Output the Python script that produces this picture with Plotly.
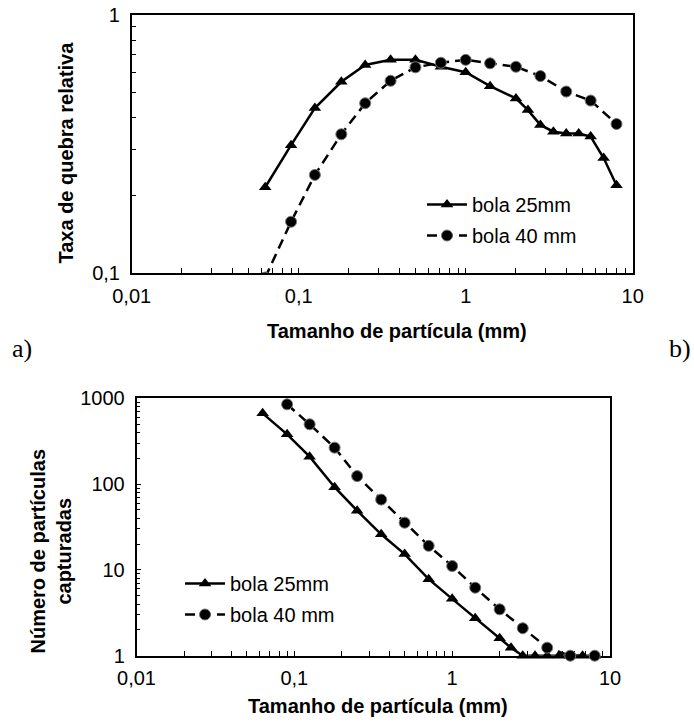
import plotly.graph_objects as go

# ---------------- data ----------------
sizes_25 = [0.063, 0.09, 0.125, 0.18, 0.25, 0.355, 0.5, 0.71, 1.0, 1.4, 2.0, 2.36,
            2.8, 3.35, 4.0, 4.75, 5.6, 6.7, 8.0]
sizes_40 = [0.063, 0.09, 0.125, 0.18, 0.25, 0.355, 0.5, 0.71, 1.0, 1.4, 2.0, 2.8,
            4.0, 5.6, 8.0]
sizes_40_b = [0.09, 0.125, 0.18, 0.25, 0.355, 0.5, 0.71, 1.0, 1.4, 2.0, 2.8,
              4.0, 5.6, 8.0]

taxa_25 = [0.215, 0.313, 0.436, 0.551, 0.640, 0.670, 0.670, 0.630, 0.600, 0.530,
           0.475, 0.428, 0.375, 0.353, 0.347, 0.347, 0.338, 0.279, 0.219]
taxa_40 = [0.096, 0.158, 0.240, 0.345, 0.455, 0.556, 0.627, 0.653, 0.670, 0.650,
           0.630, 0.580, 0.505, 0.466, 0.378]

num_25 = [668, 380, 209, 92, 49, 26, 15.3, 7.8, 4.6, 2.73, 1.6, 1.24,
          1, 1, 1, 1, 1, 1, 1]
num_40 = [851, 498, 266, 124, 66, 35.5, 19.1, 11.1, 6.2, 3.47, 2.09, 1.24, 1, 1]

series_names = ["bola 25mm", "bola 40 mm"]

x_tickvals = [0.01, 0.1, 1, 10]
x_ticktext = ["0,01", "0,1", "1", "10"]
y1_tickvals = [0.1, 1]
y1_ticktext = ["0,1", "1"]
y2_tickvals = [1, 10, 100, 1000]
y2_ticktext = ["1", "10", "100", "1000"]

x_title = "Tamanho de partícula (mm)"
y1_title = "Taxa de quebra relativa"
y2_title = "Número de partículas<br>capturadas"

# ---------------- layout helpers ----------------
W, H = 694, 727
def fx(p):
    return p / W
def fy(p):
    return 1 - p / H

SANS = "Liberation Sans, Arial, sans-serif"
SERIF = "Liberation Serif, Times New Roman, serif"
FS = 20

minor_x = [k * 10 ** e for e in range(-2, 1) for k in range(2, 10)]
minor_y1 = [k * 0.1 for k in range(2, 10)]
minor_y2 = [k * 10 ** e for e in range(0, 3) for k in range(2, 10)]

line25 = dict(color="black", width=2.5)
line40 = dict(color="black", width=2.5, dash="10px,6px")
mk25 = dict(symbol="triangle-up", size=11, color="black")
mk40 = dict(symbol="circle", size=11, color="black", line=dict(color="#777777", width=1))

fig = go.Figure()
# top panel
fig.add_trace(go.Scatter(x=sizes_25, y=taxa_25, mode="lines+markers", name=series_names[0],
                         line=line25, marker=mk25, xaxis="x", yaxis="y",
                         legend="legend", legendgroup="t25"))
fig.add_trace(go.Scatter(x=sizes_40, y=taxa_40, mode="lines+markers", name=series_names[1],
                         line=line40, marker=mk40, xaxis="x", yaxis="y",
                         legend="legend", legendgroup="t40"))
# bottom panel
fig.add_trace(go.Scatter(x=sizes_25, y=num_25, mode="lines+markers", name=series_names[0],
                         line=line25, marker=mk25, xaxis="x2", yaxis="y2",
                         legend="legend2", legendgroup="b25", cliponaxis=False))
fig.add_trace(go.Scatter(x=sizes_40_b, y=num_40, mode="lines+markers", name=series_names[1],
                         line=line40, marker=mk40, xaxis="x2", yaxis="y2",
                         legend="legend2", legendgroup="b40", cliponaxis=False))

def axis_common():
    return dict(type="log", showline=True, linecolor="black", linewidth=1.5, mirror=True,
                ticks="inside", ticklen=5, tickwidth=1, tickcolor="black",
                showgrid=False, zeroline=False, automargin=False,
                tickfont=dict(family=SANS, size=FS, color="black"))

xa = axis_common()
xa.update(range=[-2, 1], domain=[fx(131.7), fx(632.7)], anchor="y",
          tickmode="array", tickvals=x_tickvals, ticktext=x_ticktext,
          minor=dict(tickmode="array", tickvals=minor_x, ticks="inside", ticklen=5,
                     tickcolor="black", showgrid=False),
          ticklabelstandoff=4)
ya = axis_common()
ya.update(range=[-1, 0], domain=[fy(273), fy(15)], anchor="x",
          tickmode="array", tickvals=y1_tickvals, ticktext=y1_ticktext,
          minor=dict(tickmode="array", tickvals=minor_y1, ticks="inside", ticklen=5,
                     tickcolor="black", showgrid=False),
          ticklabelstandoff=6)
xa2 = axis_common()
xa2.update(range=[-2, 1], domain=[fx(136.5), fx(610)], anchor="y2",
           tickmode="array", tickvals=x_tickvals, ticktext=x_ticktext,
           minor=dict(tickmode="array", tickvals=minor_x, ticks="inside", ticklen=5,
                      tickcolor="black", showgrid=False),
           ticklabelstandoff=4, layer="below traces")
ya2 = axis_common()
ya2.update(range=[0, 3], domain=[fy(655.7), fy(398.3)], anchor="x2",
           tickmode="array", tickvals=y2_tickvals, ticktext=y2_ticktext,
           minor=dict(tickmode="array", tickvals=minor_y2, ticks="inside", ticklen=4,
                      tickcolor="black", showgrid=False),
           ticklabelstandoff=6, layer="below traces")

legend_font = dict(family=SANS, size=FS, color="black")
annotations = [
    dict(text=x_title, x=fx(397), y=fy(331), xref="paper", yref="paper",
         showarrow=False, xanchor="center", yanchor="middle",
         font=dict(family=SANS, size=FS, color="black", weight="bold")),
    dict(text=x_title, x=fx(378), y=fy(706), xref="paper", yref="paper",
         showarrow=False, xanchor="center", yanchor="middle",
         font=dict(family=SANS, size=FS, color="black", weight="bold")),
    dict(text=y1_title, x=fx(65.5), y=fy(153), xref="paper", yref="paper",
         showarrow=False, xanchor="center", yanchor="middle", textangle=-90,
         font=dict(family=SANS, size=FS, color="black", weight="bold")),
    dict(text=y2_title, x=fx(50.5), y=fy(551), xref="paper", yref="paper",
         showarrow=False, xanchor="center", yanchor="middle", textangle=-90,
         font=dict(family=SANS, size=FS, color="black", weight="bold")),
    dict(text="a)", x=fx(22), y=fy(349), xref="paper", yref="paper",
         showarrow=False, xanchor="center", yanchor="middle",
         font=dict(family=SERIF, size=26, color="black")),
    dict(text="b)", x=fx(680), y=fy(349), xref="paper", yref="paper",
         showarrow=False, xanchor="center", yanchor="middle",
         font=dict(family=SERIF, size=26, color="black")),
]

fig.update_layout(
    width=W, height=H, margin=dict(l=0, r=0, t=0, b=0, autoexpand=False),
    paper_bgcolor="white", plot_bgcolor="white",
    xaxis=xa, yaxis=ya, xaxis2=xa2, yaxis2=ya2,
    showlegend=True,
    legend=dict(x=fx(422), y=fy(185), xanchor="left", yanchor="top",
                bgcolor="rgba(0,0,0,0)", font=legend_font, tracegroupgap=2,
                itemwidth=40),
    legend2=dict(x=fx(180), y=fy(564), xanchor="left", yanchor="top",
                 bgcolor="rgba(0,0,0,0)", font=legend_font, tracegroupgap=2,
                 itemwidth=40),
    annotations=annotations,
)

fig.write_html(
    "out.html",
    config={"displayModeBar": False},
    post_script="document.body.style.margin='0px';document.body.style.overflow='hidden';",
)
